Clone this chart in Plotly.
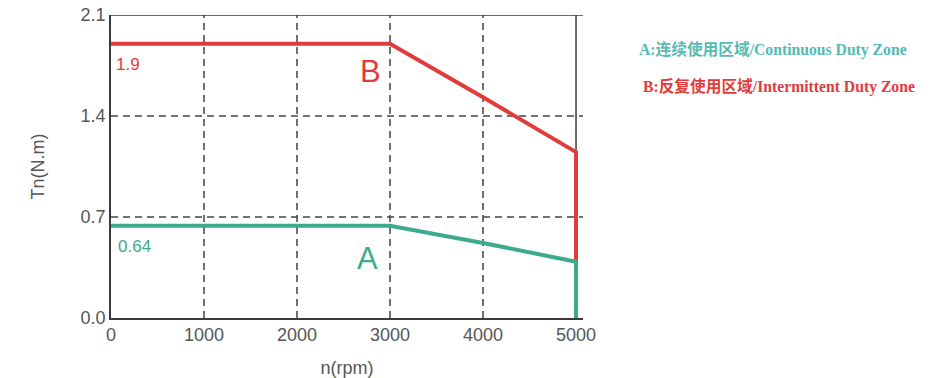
import plotly.graph_objects as go

# Data
speed_a = [0, 3000, 4000, 5000, 5000]
torque_a = [0.64, 0.64, 0.52, 0.39, 0.0]
speed_b = [0, 3000, 4000, 5000, 5000]
torque_b = [1.9, 1.9, 1.53, 1.15, 0.39]
x_ticks = [0, 1000, 2000, 3000, 4000, 5000]
y_ticks = [0.0, 0.7, 1.4, 2.1]
y_tick_labels = ["0.0", "0.7", "1.4", "2.1"]
legend_a = "A:连续使用区域/Continuous Duty Zone"
legend_b = "B:反复使用区域/Intermittent Duty Zone"

RED = "#E23B3B"
GREEN = "#3DAA8B"
AX = "#3a3a3a"

fig = go.Figure()
fig.add_trace(go.Scatter(x=speed_b, y=torque_b, mode="lines",
                         line=dict(color=RED, width=4), showlegend=False, hoverinfo="skip"))
fig.add_trace(go.Scatter(x=speed_a, y=torque_a, mode="lines",
                         line=dict(color=GREEN, width=4), showlegend=False, hoverinfo="skip"))

# dashed grid lines
for xv in x_ticks[1:-1]:
    fig.add_shape(type="line", xref="x", yref="y", x0=xv, x1=xv, y0=0, y1=2.1,
                  line=dict(color="#444", width=1.5, dash="7px,5px"), layer="below")
for yv in y_ticks[1:-1]:
    fig.add_shape(type="line", xref="paper", yref="y", x0=0, x1=1, y0=yv, y1=yv,
                  line=dict(color="#444", width=1.5, dash="7px,5px"), layer="below")
# frame: top and right at 5000
fig.add_shape(type="line", xref="paper", yref="y", x0=0, x1=1, y0=2.1, y1=2.1,
              line=dict(color=AX, width=1.5))
fig.add_shape(type="line", xref="x", yref="y", x0=x_ticks[-1], x1=x_ticks[-1], y0=0, y1=2.1,
              line=dict(color=AX, width=1.5), layer="below")

# value labels
fig.add_annotation(x=speed_b[0], y=torque_b[0], text=f"{torque_b[0]:g}", showarrow=False,
                   xanchor="left", yanchor="top", xshift=3, yshift=-9,
                   font=dict(family="Liberation Sans, Arial", size=17, color=RED))
fig.add_annotation(x=speed_a[0], y=torque_a[0], text=f"{torque_a[0]:g}", showarrow=False,
                   xanchor="left", yanchor="top", xshift=5, yshift=-9,
                   font=dict(family="Liberation Sans, Arial", size=17, color=GREEN))
fig.add_annotation(x=2790, y=1.71, text="B", showarrow=False,
                   font=dict(family="Liberation Sans, Arial", size=31, color=RED))
fig.add_annotation(x=2760, y=0.41, text="A", showarrow=False,
                   font=dict(family="Liberation Sans, Arial", size=31, color=GREEN))

# zone legend text
fig.add_annotation(xref="paper", yref="paper", x=1.114, y=0.92, text="<b>" + legend_a + "</b>",
                   showarrow=False, xanchor="left",
                   font=dict(family="Liberation Serif, Noto Sans CJK SC", size=15.7, color="#55BBB3"))
fig.add_annotation(xref="paper", yref="paper", x=1.122, y=0.80, text="<b>" + legend_b + "</b>",
                   showarrow=False, xanchor="left",
                   font=dict(family="Liberation Serif, Noto Sans CJK SC", size=15.7, color="#E23B3B"))

fig.update_layout(
    width=942, height=378,
    margin=dict(l=111, r=359, t=15, b=60, autoexpand=False),
    paper_bgcolor="white", plot_bgcolor="white",
    font=dict(family="Liberation Sans, Arial", color="#555"),
    xaxis=dict(range=[0, 5075], tickvals=x_ticks, ticktext=[str(v) for v in x_ticks],
               showgrid=False, zeroline=False, showline=True, linecolor=AX, linewidth=1.5,
               ticks="", tickfont=dict(size=18, color="#555"), automargin=False,
               title=dict(text="n(rpm)", font=dict(size=18, color="#555"), standoff=22)),
    yaxis=dict(range=[0, 2.1], tickvals=y_ticks, ticktext=y_tick_labels,
               showgrid=False, zeroline=False, showline=True, linecolor=AX, linewidth=1.5,
               ticks="", tickfont=dict(size=18, color="#555"), automargin=False,
               title=dict(text="Tn(N.m)", font=dict(size=18, color="#555"), standoff=31)),
)

fig.write_html("out.html", config={"displayModeBar": False},
               post_script="document.body.style.margin='0px';")
